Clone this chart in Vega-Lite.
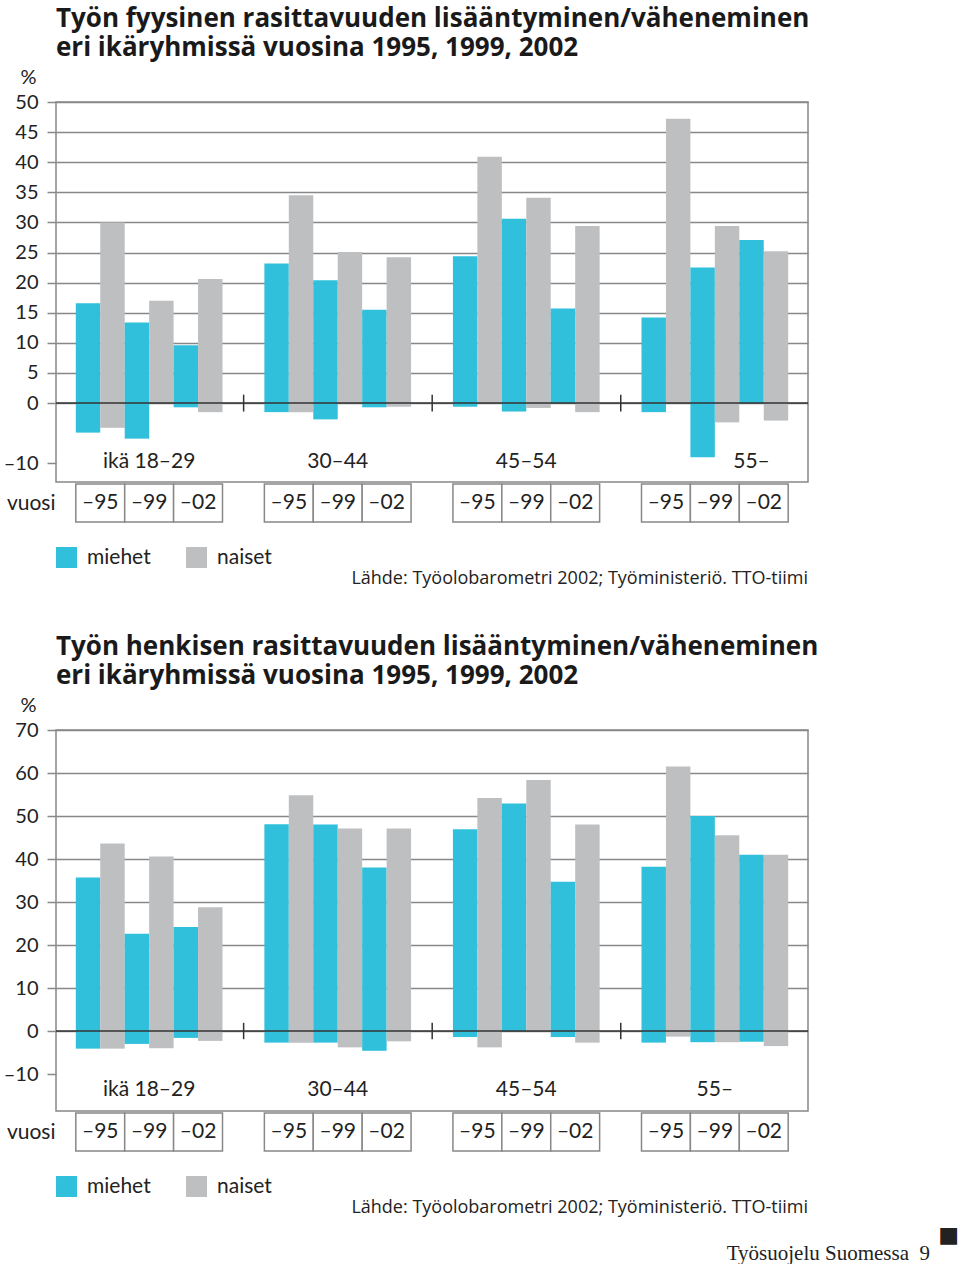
{
  "$schema": "https://vega.github.io/schema/vega-lite/v6.json",
  "padding": {"left": 2, "top": 5, "right": 0, "bottom": 0},
  "background": "white",
  "config": {
    "font": "Lato",
    "view": {"stroke": null},
    "title": {"color": "#1a1a1a"}
  },
  "datasets": {
    "fyysinen": [
      {"ika": "18–29", "vuosi": "–95", "sukupuoli": "miehet", "sarja": "–95 miehet", "lisaa": 16.6, "vahemman": -4.9},
      {"ika": "18–29", "vuosi": "–95", "sukupuoli": "naiset", "sarja": "–95 naiset", "lisaa": 30.0, "vahemman": -4.1},
      {"ika": "18–29", "vuosi": "–99", "sukupuoli": "miehet", "sarja": "–99 miehet", "lisaa": 13.4, "vahemman": -5.9},
      {"ika": "18–29", "vuosi": "–99", "sukupuoli": "naiset", "sarja": "–99 naiset", "lisaa": 17.0, "vahemman": 0},
      {"ika": "18–29", "vuosi": "–02", "sukupuoli": "miehet", "sarja": "–02 miehet", "lisaa": 9.6, "vahemman": -0.7},
      {"ika": "18–29", "vuosi": "–02", "sukupuoli": "naiset", "sarja": "–02 naiset", "lisaa": 20.6, "vahemman": -1.5},
      {"ika": "30–44", "vuosi": "–95", "sukupuoli": "miehet", "sarja": "–95 miehet", "lisaa": 23.2, "vahemman": -1.5},
      {"ika": "30–44", "vuosi": "–95", "sukupuoli": "naiset", "sarja": "–95 naiset", "lisaa": 34.5, "vahemman": -1.5},
      {"ika": "30–44", "vuosi": "–99", "sukupuoli": "miehet", "sarja": "–99 miehet", "lisaa": 20.4, "vahemman": -2.7},
      {"ika": "30–44", "vuosi": "–99", "sukupuoli": "naiset", "sarja": "–99 naiset", "lisaa": 25.1, "vahemman": 0},
      {"ika": "30–44", "vuosi": "–02", "sukupuoli": "miehet", "sarja": "–02 miehet", "lisaa": 15.5, "vahemman": -0.7},
      {"ika": "30–44", "vuosi": "–02", "sukupuoli": "naiset", "sarja": "–02 naiset", "lisaa": 24.2, "vahemman": -0.6},
      {"ika": "45–54", "vuosi": "–95", "sukupuoli": "miehet", "sarja": "–95 miehet", "lisaa": 24.4, "vahemman": -0.6},
      {"ika": "45–54", "vuosi": "–95", "sukupuoli": "naiset", "sarja": "–95 naiset", "lisaa": 40.9, "vahemman": 0},
      {"ika": "45–54", "vuosi": "–99", "sukupuoli": "miehet", "sarja": "–99 miehet", "lisaa": 30.6, "vahemman": -1.4},
      {"ika": "45–54", "vuosi": "–99", "sukupuoli": "naiset", "sarja": "–99 naiset", "lisaa": 34.1, "vahemman": -0.8},
      {"ika": "45–54", "vuosi": "–02", "sukupuoli": "miehet", "sarja": "–02 miehet", "lisaa": 15.7, "vahemman": 0},
      {"ika": "45–54", "vuosi": "–02", "sukupuoli": "naiset", "sarja": "–02 naiset", "lisaa": 29.4, "vahemman": -1.5},
      {"ika": "55–", "vuosi": "–95", "sukupuoli": "miehet", "sarja": "–95 miehet", "lisaa": 14.2, "vahemman": -1.5},
      {"ika": "55–", "vuosi": "–95", "sukupuoli": "naiset", "sarja": "–95 naiset", "lisaa": 47.2, "vahemman": 0},
      {"ika": "55–", "vuosi": "–99", "sukupuoli": "miehet", "sarja": "–99 miehet", "lisaa": 22.5, "vahemman": -9.0},
      {"ika": "55–", "vuosi": "–99", "sukupuoli": "naiset", "sarja": "–99 naiset", "lisaa": 29.4, "vahemman": -3.2},
      {"ika": "55–", "vuosi": "–02", "sukupuoli": "miehet", "sarja": "–02 miehet", "lisaa": 27.1, "vahemman": 0},
      {"ika": "55–", "vuosi": "–02", "sukupuoli": "naiset", "sarja": "–02 naiset", "lisaa": 25.2, "vahemman": -2.9}
    ],
    "henkinen": [
      {"ika": "18–29", "vuosi": "–95", "sukupuoli": "miehet", "sarja": "–95 miehet", "lisaa": 35.7, "vahemman": -4.1},
      {"ika": "18–29", "vuosi": "–95", "sukupuoli": "naiset", "sarja": "–95 naiset", "lisaa": 43.6, "vahemman": -4.1},
      {"ika": "18–29", "vuosi": "–99", "sukupuoli": "miehet", "sarja": "–99 miehet", "lisaa": 22.6, "vahemman": -3.0},
      {"ika": "18–29", "vuosi": "–99", "sukupuoli": "naiset", "sarja": "–99 naiset", "lisaa": 40.6, "vahemman": -4.0},
      {"ika": "18–29", "vuosi": "–02", "sukupuoli": "miehet", "sarja": "–02 miehet", "lisaa": 24.2, "vahemman": -1.6},
      {"ika": "18–29", "vuosi": "–02", "sukupuoli": "naiset", "sarja": "–02 naiset", "lisaa": 28.8, "vahemman": -2.3},
      {"ika": "30–44", "vuosi": "–95", "sukupuoli": "miehet", "sarja": "–95 miehet", "lisaa": 48.1, "vahemman": -2.7},
      {"ika": "30–44", "vuosi": "–95", "sukupuoli": "naiset", "sarja": "–95 naiset", "lisaa": 54.8, "vahemman": -2.7},
      {"ika": "30–44", "vuosi": "–99", "sukupuoli": "miehet", "sarja": "–99 miehet", "lisaa": 48.0, "vahemman": -2.7},
      {"ika": "30–44", "vuosi": "–99", "sukupuoli": "naiset", "sarja": "–99 naiset", "lisaa": 47.1, "vahemman": -3.8},
      {"ika": "30–44", "vuosi": "–02", "sukupuoli": "miehet", "sarja": "–02 miehet", "lisaa": 38.0, "vahemman": -4.6},
      {"ika": "30–44", "vuosi": "–02", "sukupuoli": "naiset", "sarja": "–02 naiset", "lisaa": 47.1, "vahemman": -2.4},
      {"ika": "45–54", "vuosi": "–95", "sukupuoli": "miehet", "sarja": "–95 miehet", "lisaa": 46.9, "vahemman": -1.4},
      {"ika": "45–54", "vuosi": "–95", "sukupuoli": "naiset", "sarja": "–95 naiset", "lisaa": 54.2, "vahemman": -3.8},
      {"ika": "45–54", "vuosi": "–99", "sukupuoli": "miehet", "sarja": "–99 miehet", "lisaa": 52.9, "vahemman": 0},
      {"ika": "45–54", "vuosi": "–99", "sukupuoli": "naiset", "sarja": "–99 naiset", "lisaa": 58.4, "vahemman": 0},
      {"ika": "45–54", "vuosi": "–02", "sukupuoli": "miehet", "sarja": "–02 miehet", "lisaa": 34.7, "vahemman": -1.4},
      {"ika": "45–54", "vuosi": "–02", "sukupuoli": "naiset", "sarja": "–02 naiset", "lisaa": 48.0, "vahemman": -2.7},
      {"ika": "55–", "vuosi": "–95", "sukupuoli": "miehet", "sarja": "–95 miehet", "lisaa": 38.2, "vahemman": -2.7},
      {"ika": "55–", "vuosi": "–95", "sukupuoli": "naiset", "sarja": "–95 naiset", "lisaa": 61.5, "vahemman": -1.3},
      {"ika": "55–", "vuosi": "–99", "sukupuoli": "miehet", "sarja": "–99 miehet", "lisaa": 50.0, "vahemman": -2.6},
      {"ika": "55–", "vuosi": "–99", "sukupuoli": "naiset", "sarja": "–99 naiset", "lisaa": 45.5, "vahemman": -2.6},
      {"ika": "55–", "vuosi": "–02", "sukupuoli": "miehet", "sarja": "–02 miehet", "lisaa": 41.0, "vahemman": -2.5},
      {"ika": "55–", "vuosi": "–02", "sukupuoli": "naiset", "sarja": "–02 naiset", "lisaa": 41.0, "vahemman": -3.5}
    ],
    "vuodet": [
      {"ika": "18–29", "vuosi": "–95"}, {"ika": "18–29", "vuosi": "–99"}, {"ika": "18–29", "vuosi": "–02"},
      {"ika": "30–44", "vuosi": "–95"}, {"ika": "30–44", "vuosi": "–99"}, {"ika": "30–44", "vuosi": "–02"},
      {"ika": "45–54", "vuosi": "–95"}, {"ika": "45–54", "vuosi": "–99"}, {"ika": "45–54", "vuosi": "–02"},
      {"ika": "55–", "vuosi": "–95"}, {"ika": "55–", "vuosi": "–99"}, {"ika": "55–", "vuosi": "–02"}
    ],
    "rajat": [{"ika": "18–29"}, {"ika": "30–44"}, {"ika": "45–54"}]
  },
  "title": {
    "text": "Työsuojelu Suomessa\u00a0 9",
    "orient": "bottom",
    "anchor": "end",
    "offset": -3,
    "dx": -29,
    "font": "Liberation Serif",
    "fontSize": 21,
    "fontWeight": "normal",
    "color": "#222"
  },
  "spacing": 45,
  "resolve": {"scale": {"color": "independent", "x": "independent", "y": "independent", "xOffset": "independent"}},
  "vconcat": [
    {
      "spacing": 0,
      "resolve": {"scale": {"color": "independent", "x": "independent", "y": "independent", "xOffset": "independent"}},
      "vconcat": [
        {
          "width": 752,
          "height": 380,
          "view": {"stroke": "#888", "strokeWidth": 1.5},
          "title": {
            "text": ["Työn fyysinen rasittavuuden lisääntyminen/väheneminen", "eri ikäryhmissä vuosina 1995, 1999, 2002"],
            "anchor": "start",
            "frame": "group",
            "font": "Open Sans",
            "fontSize": 26,
            "fontWeight": "bold",
            "lineHeight": 29,
            "offset": 6
          },
          "layer": [
            {
              "data": {"name": "fyysinen"},
              "transform": [{"fold": ["lisaa", "vahemman"], "as": ["suunta", "arvo"]}],
              "mark": {"type": "bar"},
              "encoding": {
                "x": {"field": "ika", "type": "nominal", "scale": {"domain": ["18–29", "30–44", "45–54", "55–"], "paddingInner": 0.222, "paddingOuter": 0.105}, "axis": null},
                "xOffset": {"field": "sarja", "type": "nominal", "scale": {"domain": ["–95 miehet", "–95 naiset", "–99 miehet", "–99 naiset", "–02 miehet", "–02 naiset"], "paddingInner": 0, "paddingOuter": 0}},
                "y": {
                  "field": "arvo", "type": "quantitative", "stack": null,
                  "scale": {"domain": [-13.1, 50], "nice": false, "zero": false},
                  "axis": {
                    "values": [-10, 0, 5, 10, 15, 20, 25, 30, 35, 40, 45, 50],
                    "tickCount": 30,
                    "labelExpr": "datum.value < 0 ? '–' + abs(datum.value) : datum.label",
                    "labelOverlap": false,
                    "title": "%", "titleAngle": 0, "titleAlign": "right", "titleBaseline": "bottom",
                    "titleX": -20, "titleY": -15, "titleFontSize": 20, "titleFontWeight": "normal", "titleColor": "#222", "titleFont": "Lato",
                    "labelFontSize": 20, "labelColor": "#222", "labelPadding": 9, "labelFont": "Lato",
                    "tickSize": 9, "tickColor": "#888", "tickWidth": 1.5,
                    "domain": false,
                    "grid": true,
                    "gridColor": {"condition": {"test": "datum.value < 0", "value": "transparent"}, "value": "#888"},
                    "gridWidth": 1.5
                  }
                },
                "color": {"field": "sukupuoli", "type": "nominal", "scale": {"domain": ["miehet", "naiset"], "range": ["#31C0DC", "#BEBFC1"]}, "legend": null}
              }
            },
            {
              "data": {"values": [{"ika": "18–29", "teksti": "ikä 18–29"}, {"ika": "30–44", "teksti": "30–44"}, {"ika": "45–54", "teksti": "45–54"}]},
              "mark": {"type": "text", "fontSize": 21, "color": "#222", "baseline": "middle", "font": "Lato"},
              "encoding": {
                "x": {"field": "ika", "type": "nominal"},
                "y": {"datum": -9.7},
                "text": {"field": "teksti"}
              }
            },
            {
              "data": {"values": [{"ika": "55–", "sarja": "–02 miehet", "teksti": "55–"}]},
              "mark": {"type": "text", "fontSize": 21, "color": "#222", "baseline": "middle", "font": "Lato"},
              "encoding": {
                "x": {"field": "ika", "type": "nominal"},
                "xOffset": {"field": "sarja", "type": "nominal"},
                "y": {"datum": -9.7},
                "text": {"field": "teksti"}
              }
            },
            {
              "data": {"name": "rajat"},
              "mark": {"type": "rule", "color": "#333", "strokeWidth": 1.5},
              "encoding": {
                "x": {"field": "ika", "type": "nominal", "bandPosition": 1.144},
                "y": {"datum": -1.4},
                "y2": {"datum": 1.4}
              }
            },
            {
              "data": {"values": [{}]},
              "mark": {"type": "rule", "color": "#333", "strokeWidth": 1.5},
              "encoding": {"y": {"datum": 0}}
            }
          ]
        },
        {
          "width": 752,
          "height": 38,
          "title": {
            "text": "Lähde: Työolobarometri 2002; Työministeriö. TTO-tiimi",
            "orient": "bottom", "anchor": "end", "frame": "group",
            "font": "Open Sans", "fontSize": 18, "fontWeight": "normal", "color": "#222", "offset": 2
          },
          "layer": [
            {
              "data": {"name": "fyysinen"},
              "mark": {"type": "rect", "opacity": 0},
              "encoding": {
                "color": {
                  "field": "sukupuoli", "type": "nominal",
                  "scale": {"domain": ["miehet", "naiset"], "range": ["#31C0DC", "#BEBFC1"]},
                  "legend": {"orient": "none", "legendX": 0, "legendY": 63, "direction": "horizontal", "title": null,
                    "symbolType": "square", "symbolSize": 440, "symbolStrokeWidth": 0, "symbolOpacity": 1,
                    "labelFontSize": 21, "labelColor": "#222", "labelFont": "Lato", "labelOffset": 10, "columnPadding": 35, "padding": 0}
                }
              }
            },
            {
              "data": {"name": "vuodet"},
              "mark": {"type": "rect", "fill": "white", "stroke": "#888", "strokeWidth": 1.5},
              "encoding": {
                "x": {"field": "ika", "type": "nominal", "scale": {"domain": ["18–29", "30–44", "45–54", "55–"], "paddingInner": 0.222, "paddingOuter": 0.105}, "axis": null},
                "xOffset": {"field": "vuosi", "type": "nominal", "scale": {"domain": ["–95", "–99", "–02"], "paddingInner": 0, "paddingOuter": 0}},
                "y": {"datum": 0, "type": "quantitative", "scale": {"domain": [0, 1], "nice": false},
                  "axis": {"values": [0.5], "labelExpr": "'vuosi'", "ticks": false, "domain": false, "grid": false, "title": null,
                    "labelFontSize": 21, "labelColor": "#222", "labelFont": "Lato", "labelPadding": 1}},
                "y2": {"datum": 1}
              }
            },
            {
              "data": {"name": "vuodet"},
              "mark": {"type": "text", "fontSize": 21, "color": "#222", "baseline": "middle", "font": "Lato"},
              "encoding": {
                "x": {"field": "ika", "type": "nominal"},
                "xOffset": {"field": "vuosi", "type": "nominal"},
                "y": {"datum": 0.5, "type": "quantitative"},
                "text": {"field": "vuosi"}
              }
            }
          ]
        }
      ]
    },
    {
      "spacing": 0,
      "title": {
        "text": "■",
        "orient": "bottom",
        "anchor": "end",
        "offset": 8,
        "dx": 140,
        "font": "DejaVu Sans",
        "fontSize": 22,
        "fontWeight": "normal",
        "color": "#222"
      },
      "resolve": {"scale": {"color": "independent", "x": "independent", "y": "independent", "xOffset": "independent"}},
      "vconcat": [
        {
          "width": 752,
          "height": 381,
          "view": {"stroke": "#888", "strokeWidth": 1.5},
          "title": {
            "text": ["Työn henkisen rasittavuuden lisääntyminen/väheneminen", "eri ikäryhmissä vuosina 1995, 1999, 2002"],
            "anchor": "start",
            "frame": "group",
            "font": "Open Sans",
            "fontSize": 26,
            "fontWeight": "bold",
            "lineHeight": 29,
            "offset": 6
          },
          "layer": [
            {
              "data": {"name": "henkinen"},
              "transform": [{"fold": ["lisaa", "vahemman"], "as": ["suunta", "arvo"]}],
              "mark": {"type": "bar"},
              "encoding": {
                "x": {"field": "ika", "type": "nominal", "scale": {"domain": ["18–29", "30–44", "45–54", "55–"], "paddingInner": 0.222, "paddingOuter": 0.105}, "axis": null},
                "xOffset": {"field": "sarja", "type": "nominal", "scale": {"domain": ["–95 miehet", "–95 naiset", "–99 miehet", "–99 naiset", "–02 miehet", "–02 naiset"], "paddingInner": 0, "paddingOuter": 0}},
                "y": {
                  "field": "arvo", "type": "quantitative", "stack": null,
                  "scale": {"domain": [-18.6, 70], "nice": false, "zero": false},
                  "axis": {
                    "values": [-10, 0, 10, 20, 30, 40, 50, 60, 70],
                    "tickCount": 30,
                    "labelExpr": "datum.value < 0 ? '–' + abs(datum.value) : datum.label",
                    "labelOverlap": false,
                    "title": "%", "titleAngle": 0, "titleAlign": "right", "titleBaseline": "bottom",
                    "titleX": -20, "titleY": -15, "titleFontSize": 20, "titleFontWeight": "normal", "titleColor": "#222", "titleFont": "Lato",
                    "labelFontSize": 20, "labelColor": "#222", "labelPadding": 9, "labelFont": "Lato",
                    "tickSize": 9, "tickColor": "#888", "tickWidth": 1.5,
                    "domain": false,
                    "grid": true,
                    "gridColor": {"condition": {"test": "datum.value < 0", "value": "transparent"}, "value": "#888"},
                    "gridWidth": 1.5
                  }
                },
                "color": {"field": "sukupuoli", "type": "nominal", "scale": {"domain": ["miehet", "naiset"], "range": ["#31C0DC", "#BEBFC1"]}, "legend": null}
              }
            },
            {
              "data": {"values": [{"ika": "18–29", "teksti": "ikä 18–29"}, {"ika": "30–44", "teksti": "30–44"}, {"ika": "45–54", "teksti": "45–54"}, {"ika": "55–", "teksti": "55–"}]},
              "mark": {"type": "text", "fontSize": 21, "color": "#222", "baseline": "middle", "font": "Lato"},
              "encoding": {
                "x": {"field": "ika", "type": "nominal"},
                "y": {"datum": -13.7},
                "text": {"field": "teksti"}
              }
            },
            {
              "data": {"name": "rajat"},
              "mark": {"type": "rule", "color": "#333", "strokeWidth": 1.5},
              "encoding": {
                "x": {"field": "ika", "type": "nominal", "bandPosition": 1.144},
                "y": {"datum": -1.9},
                "y2": {"datum": 1.9}
              }
            },
            {
              "data": {"values": [{}]},
              "mark": {"type": "rule", "color": "#333", "strokeWidth": 1.5},
              "encoding": {"y": {"datum": 0}}
            }
          ]
        },
        {
          "width": 752,
          "height": 38,
          "title": {
            "text": "Lähde: Työolobarometri 2002; Työministeriö. TTO-tiimi",
            "orient": "bottom", "anchor": "end", "frame": "group",
            "font": "Open Sans", "fontSize": 18, "fontWeight": "normal", "color": "#222", "offset": 2
          },
          "layer": [
            {
              "data": {"name": "henkinen"},
              "mark": {"type": "rect", "opacity": 0},
              "encoding": {
                "color": {
                  "field": "sukupuoli", "type": "nominal",
                  "scale": {"domain": ["miehet", "naiset"], "range": ["#31C0DC", "#BEBFC1"]},
                  "legend": {"orient": "none", "legendX": 0, "legendY": 63, "direction": "horizontal", "title": null,
                    "symbolType": "square", "symbolSize": 440, "symbolStrokeWidth": 0, "symbolOpacity": 1,
                    "labelFontSize": 21, "labelColor": "#222", "labelFont": "Lato", "labelOffset": 10, "columnPadding": 35, "padding": 0}
                }
              }
            },
            {
              "data": {"name": "vuodet"},
              "mark": {"type": "rect", "fill": "white", "stroke": "#888", "strokeWidth": 1.5},
              "encoding": {
                "x": {"field": "ika", "type": "nominal", "scale": {"domain": ["18–29", "30–44", "45–54", "55–"], "paddingInner": 0.222, "paddingOuter": 0.105}, "axis": null},
                "xOffset": {"field": "vuosi", "type": "nominal", "scale": {"domain": ["–95", "–99", "–02"], "paddingInner": 0, "paddingOuter": 0}},
                "y": {"datum": 0, "type": "quantitative", "scale": {"domain": [0, 1], "nice": false},
                  "axis": {"values": [0.5], "labelExpr": "'vuosi'", "ticks": false, "domain": false, "grid": false, "title": null,
                    "labelFontSize": 21, "labelColor": "#222", "labelFont": "Lato", "labelPadding": 1}},
                "y2": {"datum": 1}
              }
            },
            {
              "data": {"name": "vuodet"},
              "mark": {"type": "text", "fontSize": 21, "color": "#222", "baseline": "middle", "font": "Lato"},
              "encoding": {
                "x": {"field": "ika", "type": "nominal"},
                "xOffset": {"field": "vuosi", "type": "nominal"},
                "y": {"datum": 0.5, "type": "quantitative"},
                "text": {"field": "vuosi"}
              }
            }
          ]
        }
      ]
    }
  ]
}
